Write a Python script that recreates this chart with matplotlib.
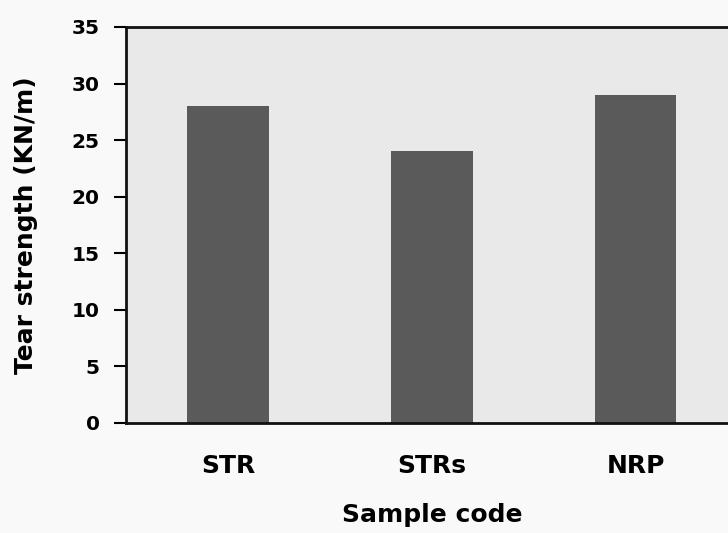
import matplotlib
matplotlib.use("Agg")
import matplotlib.pyplot as plt

categories = ["STR", "STRs", "NRP"]
tear_strength = [28.0, 24.0, 29.0]
y_ticks = [0, 5, 10, 15, 20, 25, 30, 35]

plt.rcParams["font.family"] = ["DejaVu Sans"]

fig = plt.figure(figsize=(7.28, 5.33), dpi=100)
fig.patch.set_facecolor("#f9f9f9")
ax = fig.add_axes([126 / 728, 1 - 423 / 533, 611.5 / 728, 396 / 533])
ax.set_facecolor("#e9e9e9")

x = range(len(categories))
ax.bar(x, tear_strength, width=0.4, color="#5a5a5a", zorder=2)

ax.set_xlim(-0.5, 2.5)
ax.set_ylim(0, 35)
ax.set_yticks(y_ticks)
ax.set_xticks(list(x))
ax.set_xticklabels(categories, fontsize=18, fontweight="bold")
ax.set_yticklabels([str(t) for t in y_ticks], fontsize=14.5, fontweight="bold")

ax.tick_params(axis="y", direction="out", length=9, width=1.5, pad=10)
ax.tick_params(axis="x", length=0, pad=22)

for side in ("left", "bottom", "top"):
    ax.spines[side].set_linewidth(2)
    ax.spines[side].set_color("#111111")
ax.spines["right"].set_visible(False)

ax.set_ylabel("Tear strength (KN/m)", fontsize=18, fontweight="bold", labelpad=24)
ax.set_xlabel("Sample code", fontsize=18, fontweight="bold", labelpad=18)

fig.savefig("out.png", dpi=100, facecolor=fig.get_facecolor())
